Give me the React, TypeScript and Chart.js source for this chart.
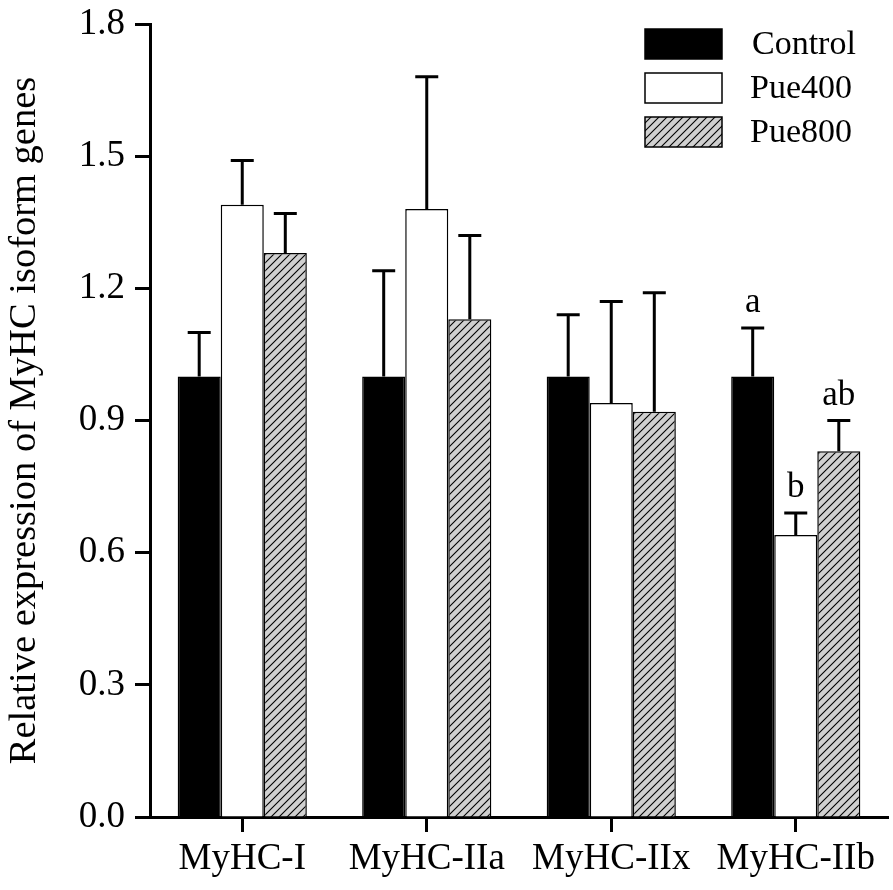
import React, { useEffect, useRef } from "react";
import { Chart, registerables, Plugin } from "chart.js";

Chart.register(...registerables);

const categories = ["MyHC-I", "MyHC-IIa", "MyHC-IIx", "MyHC-IIb"];
const groupNames = ["Control", "Pue400", "Pue800"];

const controlMean = [1.0, 1.0, 1.0, 1.0];
const controlSd = [0.1, 0.24, 0.14, 0.11];
const pue400Mean = [1.39, 1.38, 0.94, 0.64];
const pue400Sd = [0.1, 0.3, 0.23, 0.05];
const pue800Mean = [1.28, 1.13, 0.92, 0.83];
const pue800Sd = [0.09, 0.19, 0.27, 0.07];

const controlLetters = ["", "", "", "a"];
const pue400Letters = ["", "", "", "b"];
const pue800Letters = ["", "", "", "ab"];

const yTicks = [0, 0.3, 0.6, 0.9, 1.2, 1.5, 1.8];

const FONT = "'Liberation Serif', 'Times New Roman', serif";

function makeHatch(): CanvasPattern | string {
  const tile = document.createElement("canvas");
  tile.width = 8;
  tile.height = 8;
  const t = tile.getContext("2d");
  if (!t) return "#cccccc";
  t.fillStyle = "#d0d0d0";
  t.fillRect(0, 0, 8, 8);
  t.strokeStyle = "#000";
  t.lineWidth = 1.1;
  t.beginPath();
  t.moveTo(0, 8);
  t.lineTo(8, 0);
  t.moveTo(-1, 1);
  t.lineTo(1, -1);
  t.moveTo(7, 9);
  t.lineTo(9, 7);
  t.stroke();
  const p = t.createPattern(tile, "repeat");
  return p || "#cccccc";
}

const sdList = [controlSd, pue400Sd, pue800Sd];
const letterList = [controlLetters, pue400Letters, pue800Letters];

// error bars (upper half only) and significance letters
const errorBars: Plugin<"bar"> = {
  id: "errorBars",
  afterDatasetsDraw(chart) {
    const ctx = chart.ctx;
    const yScale = chart.scales.y;
    ctx.save();
    chart.data.datasets.forEach((ds, i) => {
      const meta = chart.getDatasetMeta(i);
      meta.data.forEach((bar: any, j: number) => {
        const v = ds.data[j] as number;
        const top = yScale.getPixelForValue(v + sdList[i][j]);
        ctx.strokeStyle = "#000";
        ctx.lineWidth = 3;
        ctx.beginPath();
        ctx.moveTo(bar.x, bar.y);
        ctx.lineTo(bar.x, top);
        ctx.moveTo(bar.x - 11.5, top);
        ctx.lineTo(bar.x + 11.5, top);
        ctx.stroke();
        const letter = letterList[i][j];
        if (letter) {
          ctx.fillStyle = "#000";
          ctx.font = `35px ${FONT}`;
          ctx.textAlign = "center";
          ctx.textBaseline = "middle";
          ctx.fillText(letter, bar.x, top - 25);
        }
      });
    });
    ctx.restore();
  },
};

const boxLegend: Plugin<"bar"> = {
  id: "boxLegend",
  afterDraw(chart) {
    const ctx = chart.ctx;
    const area = chart.chartArea;
    const x0 = area.right - 243;
    ctx.save();
    chart.data.datasets.forEach((ds, i) => {
      const y = 29 + i * 44;
      ctx.fillStyle = ds.backgroundColor as any;
      ctx.fillRect(x0, y, 77, 30);
      ctx.strokeStyle = "#000";
      ctx.lineWidth = 1.5;
      ctx.strokeRect(x0, y, 77, 30);
      ctx.fillStyle = "#000";
      ctx.font = `34px ${FONT}`;
      ctx.textAlign = "left";
      ctx.textBaseline = "middle";
      ctx.fillText(groupNames[i], x0 + (i === 0 ? 107 : 105), y + 16);
    });
    ctx.restore();
  },
};

function App(): JSX.Element {
  const chartRef = useRef<HTMLCanvasElement | null>(null);
  const chartInstance = useRef<Chart | null>(null);

  useEffect(() => {
    document.body.style.margin = "0";
    if (chartRef.current) {
      const ctx = chartRef.current.getContext("2d");
      if (ctx) {
        if (chartInstance.current) {
          chartInstance.current.destroy();
        }
        const hatch = makeHatch();
        chartInstance.current = new Chart(ctx, {
          type: "bar",
          data: {
            labels: categories,
            datasets: [
              {
                label: groupNames[0],
                data: controlMean,
                backgroundColor: "#000000",
                borderColor: "#000000",
                borderWidth: 1.5,
              },
              {
                label: groupNames[1],
                data: pue400Mean,
                backgroundColor: "#ffffff",
                borderColor: "#000000",
                borderWidth: 1.5,
              },
              {
                label: groupNames[2],
                data: pue800Mean,
                backgroundColor: hatch as any,
                borderColor: "#000000",
                borderWidth: 1.5,
              },
            ],
          },
          options: {
            responsive: false,
            animation: false,
            layout: { padding: { top: 24, right: 5, left: 0, bottom: 0 } },
            categoryPercentage: 0.7,
            barPercentage: 1.0,
            plugins: {
              legend: { display: false },
              tooltip: { enabled: false },
            },
            scales: {
              x: {
                z: 1,
                offset: true,
                grid: {
                  offset: false,
                  drawOnChartArea: false,
                  tickLength: 15,
                  tickWidth: 3,
                  tickColor: "#000",
                },
                border: { color: "#000", width: 3 },
                ticks: {
                  color: "#000",
                  padding: 5,
                  font: { family: FONT, size: 37 },
                },
                afterFit: (scale: any) => {
                  scale.height = 73;
                },
              },
              y: {
                z: 1,
                min: 0,
                max: 1.8,
                afterBuildTicks: (scale: any) => {
                  scale.ticks = yTicks.map((v) => ({ value: v }));
                },
                grid: {
                  drawOnChartArea: false,
                  tickLength: 15,
                  tickWidth: 3,
                  tickColor: "#000",
                },
                border: { color: "#000", width: 3 },
                ticks: {
                  color: "#000",
                  padding: 10,
                  font: { family: FONT, size: 37 },
                  callback: (v: any) => Number(v).toFixed(1),
                },
                title: {
                  display: true,
                  text: "Relative expression of MyHC isoform genes",
                  color: "#000",
                  font: { family: FONT, size: 38.5 },
                  padding: { top: 2, bottom: 0 },
                },
                afterFit: (scale: any) => {
                  scale.width = 150;
                  scale.paddingTop = 0;
                  scale.paddingBottom = 0;
                },
              },
            },
          },
          plugins: [errorBars, boxLegend],
        });
      }
    }
    return () => {
      if (chartInstance.current) {
        chartInstance.current.destroy();
        chartInstance.current = null;
      }
    };
  }, []);

  return (
    <div style={{ position: "absolute", left: 0, top: 0, width: 893, height: 890 }}>
      <canvas ref={chartRef} width={893} height={890} />
    </div>
  );
}

export default App;
